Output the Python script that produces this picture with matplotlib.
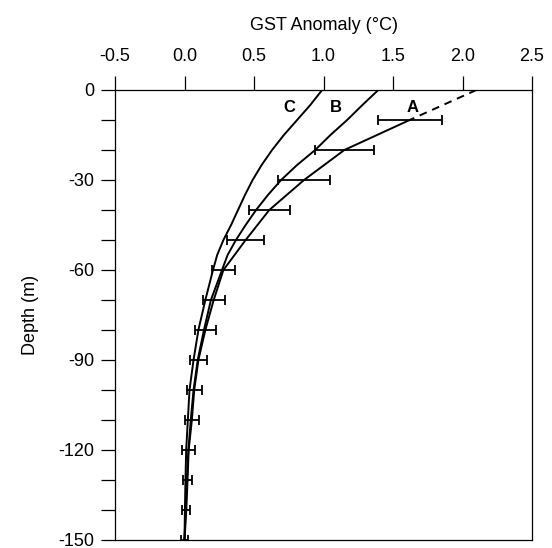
import numpy as np
import matplotlib
matplotlib.use('Agg')
from matplotlib import pyplot as plt

plt.rcParams['font.family'] = ['Liberation Sans', 'DejaVu Sans']
plt.rcParams['axes.unicode_minus'] = False

# curve A: model fit with error bars, every 10 m
depth_a = [0, -10, -20, -30, -40, -50, -60, -70, -80, -90, -100, -110, -120, -130, -140, -150]
gst_a = [2.10, 1.62, 1.15, 0.86, 0.61, 0.44, 0.28, 0.21, 0.15, 0.10, 0.07, 0.053, 0.03, 0.022, 0.013, 0.0]
err_a = [0.0, 0.23, 0.21, 0.19, 0.147, 0.135, 0.083, 0.078, 0.075, 0.06, 0.054, 0.048, 0.047, 0.035, 0.028, 0.022]

# curves B and C
depth_bc = [0, -5, -10, -15, -20, -25, -30, -35, -40, -45, -50, -55, -60,
            -70, -80, -90, -100, -110, -120, -130, -140, -150]
gst_b = [1.394, 1.28, 1.17, 1.05, 0.94, 0.81, 0.695, 0.60, 0.515, 0.44, 0.37, 0.31, 0.27,
         0.19, 0.14, 0.095, 0.065, 0.045, 0.028, 0.017, 0.008, 0.0]
gst_c = [0.99, 0.905, 0.81, 0.715, 0.63, 0.555, 0.49, 0.435, 0.385, 0.335, 0.28, 0.235, 0.205,
         0.15, 0.10, 0.065, 0.036, 0.024, 0.012, 0.007, 0.003, 0.0]

labels = ['A', 'B', 'C']
label_x = [1.64, 1.09, 0.755]
label_y = -5.7

fig = plt.figure(figsize=(5.52, 5.48), dpi=100)
ax = fig.add_axes([115/552, 1-540/548, 417/552, 450/548])

lw = 1.4
# A: dashed near surface, solid below
ax.plot(gst_a[:2], depth_a[:2], color='black', lw=lw, ls=(0, (4, 3)))
ax.errorbar(gst_a[1:], depth_a[1:], xerr=err_a[1:], color='black', lw=lw,
            elinewidth=1.3, capsize=3.5, capthick=1.3)
ax.plot(gst_b, depth_bc, color='black', lw=lw)
ax.plot(gst_c, depth_bc, color='black', lw=lw)

for lab, lx in zip(labels, label_x):
    ax.text(lx, label_y, lab, ha='center', va='center', fontsize=12, fontweight='bold')

ax.set_xlim(-0.5, 2.5)
ax.set_ylim(-150, 0)
ax.xaxis.tick_top()
ax.xaxis.set_label_position('top')
ax.set_xticks(np.arange(-0.5, 2.51, 0.5))
ax.set_xticklabels(['%.1f' % v for v in np.arange(-0.5, 2.51, 0.5)])
ax.set_yticks(np.arange(-150, 1, 30))
ax.set_yticks(np.arange(-150, 1, 10), minor=True)
ax.tick_params(axis='both', which='both', direction='out', length=10, width=0.9, labelsize=13)
ax.tick_params(axis='x', pad=8)
ax.tick_params(axis='y', pad=5)
for s in ax.spines.values():
    s.set_linewidth(0.9)

ax.set_xlabel('GST Anomaly (°C)', fontsize=13, labelpad=13)
ax.set_ylabel('Depth (m)', fontsize=13, labelpad=14)

fig.savefig('out.png', dpi=100)
